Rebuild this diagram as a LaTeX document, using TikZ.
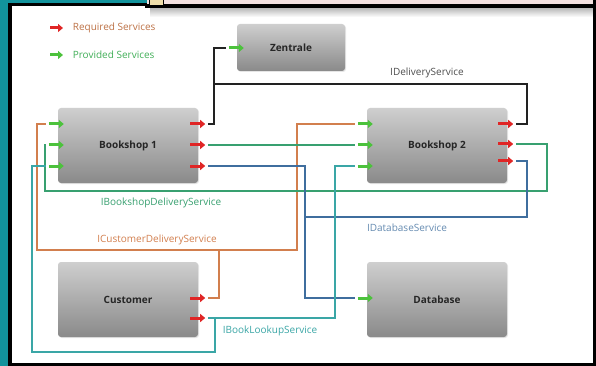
\documentclass[tikz,border=0pt]{standalone}
\usepackage{fontspec}
\setmainfont{Open Sans}
\usetikzlibrary{arrows.meta,shadows}
\definecolor{marco}{HTML}{12939C}
\definecolor{rosa}{HTML}{F3E1E0}
\definecolor{rojo}{HTML}{E02626}
\definecolor{verdeclaro}{HTML}{4CC23C}
\definecolor{negro}{HTML}{222222}
\definecolor{naranja}{HTML}{D27F4E}
\definecolor{verde}{HTML}{38A070}
\definecolor{azul}{HTML}{3F6E9E}
\definecolor{turquesa}{HTML}{3AA6A6}

\begin{document}
\begin{tikzpicture}[x=1pt, y=-1pt, % 1 pixel = 1pt, eje y hacia abajo
    caja/.style={rounded corners=3pt, top color=gray!38, bottom color=gray!92,
      minimum width=140pt, minimum height=75pt, text=black!85,
      font=\fontsize{10}{12}\selectfont\bfseries,
      drop shadow={opacity=0.2, shadow xshift=1pt, shadow yshift=-1pt}},
    req/.style={rojo, line width=3pt, -{Triangle[length=5pt,width=8pt]}},
    prov/.style={verdeclaro, line width=3pt, -{Triangle[length=5pt,width=8pt]}},
    linea/.style={line width=2pt},
    etiq/.style={font=\fontsize{10}{12}\selectfont}]
    \useasboundingbox (0,0) rectangle (596,366);
    % Marco de la ventana
    \fill[white] (0,0) rectangle (596,366);
    \fill[marco] (0,0) rectangle (9,366);
    \fill[marco] (0,0) rectangle (147,3);
    \fill[rosa] (147,0) rectangle (596,4);
    \shade[top color=gray!55, bottom color=white] (150,8) rectangle (593,17);
    \fill[black] (9,3) rectangle (147,6);
    \fill[black] (145,4) rectangle (596,8);
    \fill[black] (8,3) rectangle (12,366);
    \fill[black] (593,0) rectangle (596,366);
    \fill[black] (8,363) rectangle (596,366);
    \draw[black, fill=yellow!35!brown!40] (149,-1) rectangle (163,5);
    % Leyenda
    \draw[req] (50,28) -- (63,28) node[right=5pt, etiq, text=naranja!90!black] {Required Services};
    \draw[prov] (50,55) -- (63,55) node[right=5pt, etiq, text=verde!55!verdeclaro] {Provided Services};
    % Componentes
    \node[caja, minimum width=108pt, minimum height=47pt] (ze) at (291,47.5) {Zentrale};
    \node[caja] (b1) at (128,145.5) {Bookshop 1};
    \node[caja] (b2) at (437,145.5) {Bookshop 2};
    \node[caja] (cu) at (128,299.5) {Customer};
    \node[caja] (db) at (437,299.5) {Database};
    % Puertos: entradas (i) y salidas (o)
    \coordinate (zei1) at ([shift={(-11,0.5)}]ze.west);
    \foreach \n/\dy in {1/-21.5, 2/-0.5, 3/20.5} {
      \coordinate (b1i\n) at ([shift={(-12,\dy)}]b1.west);
      \coordinate (b1o\n) at ([shift={(10,\dy)}]b1.east);
      \coordinate (b2i\n) at ([shift={(-12,\dy)}]b2.west);
    }
    \coordinate (b2o1) at ([shift={(9,-21.5)}]b2.east);
    \coordinate (b2o2) at ([shift={(9,-1.5)}]b2.east);
    \coordinate (b2o3) at ([shift={(9,15.5)}]b2.east);
    \coordinate (cuo1) at ([shift={(10,-1.5)}]cu.east);
    \coordinate (cuo2) at ([shift={(10,18.5)}]cu.east);
    \coordinate (dbi1) at ([shift={(-12,-1.5)}]db.west);
    % Flechas de los puertos
    \foreach \p in {zei1, b1i1, b1i2, b1i3, b2i1, b2i2, b2i3, dbi1}
      \draw[prov] ([xshift=3]\p) -- ++(15,0);
    \foreach \p in {b1o1, b1o2, b1o3, b2o1, b2o2, b2o3, cuo1, cuo2}
      \draw[req] ([xshift=-18]\p) -- ++(15,0);
    % IDeliveryService
    \coordinate (jd) at (214,84);
    \draw[linea, negro] (b1o1) -| (jd) -- ++(313,0) |- (b2o1);
    \draw[linea, negro] (jd) |- (zei1);
    \node[etiq, text=negro!80] (ld) at (427,73) {IDeliveryService};
    % ICustomerDeliveryService
    \coordinate (oL) at (37,250);
    \coordinate (oR) at (297,250);
    \coordinate (oJ) at (219,250);
    \draw[linea, naranja] (b1i1) -| (oL) -- (oR) |- (b2i1);
    \draw[linea, naranja] (cuo1) -| (oJ);
    \node[etiq, text=naranja] (lo) at (157,240) {ICustomerDeliveryService};
    % IBookshopDeliveryService
    \coordinate (gR) at (547,191);
    \coordinate (gL) at (45,191);
    \draw[linea, verde] (b1o2) -- (b2i2);
    \draw[linea, verde] (b2o2) -| (gR) -- (gL) |- (b1i2);
    \node[etiq, text=verde] (lg) at (161,203) {IBookshopDeliveryService};
    % IDatabaseService
    \coordinate (bD) at (305,298);
    \coordinate (bR) at (527,217);
    \coordinate (bL) at (305,217);
    \draw[linea, azul] (b1o3) -| (bD) -- (dbi1);
    \draw[linea, azul] (b2o3) -| (bR) -- (bL);
    \node[etiq, text=azul!80] (lb) at (407,228) {IDatabaseService};
    % IBookLookupService
    \coordinate (tR) at (335,166);
    \coordinate (tJ) at (215,318);
    \coordinate (tL) at (32,352);
    \draw[linea, turquesa] (cuo2) -| (tR) -- (b2i3);
    \draw[linea, turquesa] (tJ) |- (tL) |- (b1i3);
    \node[etiq, text=turquesa] (lt) at (270,331) {IBookLookupService};
\end{tikzpicture}
\end{document}
